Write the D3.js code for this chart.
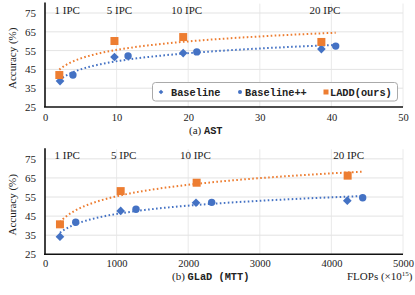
<!DOCTYPE html>
<html><head><meta charset="utf-8">
<script src="https://cdn.jsdelivr.net/npm/d3@7"></script>
<style>
body{margin:0;background:#fff}
svg{display:block}
</style></head><body>
<svg id="c" width="415" height="295"></svg>
<script>
// ---- data ----
const yTicks = [25, 35, 45, 55, 65, 75];
const ipcLabels = ["1 IPC", "5 IPC", "10 IPC", "20 IPC"];
const seriesNames = ["Baseline", "Baseline++", "LADD(ours)"];

// (a) AST
const astXTicks = [0, 10, 20, 30, 40, 50];
const astBaselineX = [2.1, 9.7, 19.3, 38.6];
const astBaselineY = [38.8, 51.6, 53.7, 55.8];
const astBaselinePPX = [3.9, 11.6, 21.2, 40.6];
const astBaselinePPY = [42.0, 52.1, 54.3, 57.4];
const astLaddX = [2.0, 9.7, 19.3, 38.6];
const astLaddY = [42.0, 60.1, 62.2, 59.6];
const astIpcX = [3.1, 10.4, 19.8, 39.1];

// (b) GLaD (MTT)
const gladXTicks = [0, 1000, 2000, 3000, 4000, 5000];
const gladBaselineX = [209, 1057, 2109, 4222];
const gladBaselineY = [34.2, 47.7, 52.0, 53.1];
const gladBaselinePPX = [429, 1271, 2328, 4437];
const gladBaselinePPY = [41.8, 48.6, 52.2, 54.6];
const gladLaddX = [209, 1057, 2118, 4227];
const gladLaddY = [40.7, 58.1, 62.5, 66.2];
const gladIpcX = [310, 1100, 2100, 4240];

const BLUE = "#4472C4", ORANGE = "#ED7D31";
const SERIF = "'Liberation Serif', 'Times New Roman', serif";
const MONO = "'Liberation Mono', 'DejaVu Sans Mono', monospace";
const svg = d3.select("#c");

function logFit(xs, ys) {
  const lx = xs.map(Math.log);
  const mx = d3.mean(lx), my = d3.mean(ys);
  let sxy = 0, sxx = 0;
  lx.forEach((v, i) => { sxy += (v - mx) * (ys[i] - my); sxx += (v - mx) * (v - mx); });
  const b = sxy / sxx, a = my - b * mx;
  return x => a + b * Math.log(x);
}

function panel(opt) {
  const x = d3.scaleLinear().domain([opt.xTicks[0], opt.xTicks[opt.xTicks.length-1]]).range([45, 403]);
  const y = d3.scaleLinear().domain([25, 80]).range([opt.bottom, opt.top]);
  const g = svg.append("g");

  // gridlines
  g.selectAll(".hg").data(yTicks.slice(1)).join("line")
    .attr("x1", 45).attr("x2", 403).attr("y1", d => y(d)).attr("y2", d => y(d))
    .attr("stroke", "#dcdcdc").attr("stroke-width", 0.8);
  g.selectAll(".vg").data(opt.xTicks.slice(1)).join("line")
    .attr("x1", d => x(d)).attr("x2", d => x(d)).attr("y1", opt.top).attr("y2", opt.bottom)
    .attr("stroke", "#e4e4e4").attr("stroke-width", 0.8);

  // axes
  const ya = d3.axisLeft(y).tickValues(yTicks).tickSize(0).tickPadding(9).tickFormat(d3.format("d"));
  const yg = g.append("g").attr("transform", "translate(45,0)").call(ya)
    .attr("font-family", SERIF).attr("font-size", 11);
  yg.select(".domain").remove();
  yg.selectAll("text").attr("fill", "#222");
  const xa = d3.axisBottom(x).tickValues(opt.xTicks).tickSize(0).tickPadding(opt.pad).tickFormat(d3.format("d"));
  const xg = g.append("g").attr("transform", `translate(0,${opt.bottom})`).call(xa)
    .attr("font-family", SERIF).attr("font-size", 10.5);
  xg.select(".domain").remove();
  xg.selectAll("text").attr("fill", "#222");
  g.append("line").attr("x1", 45).attr("x2", 45).attr("y1", opt.top - 1).attr("y2", opt.bottom)
    .attr("stroke", "#111").attr("stroke-width", 1.6);
  g.append("line").attr("x1", 44).attr("x2", 403).attr("y1", opt.bottom).attr("y2", opt.bottom)
    .attr("stroke", "#111").attr("stroke-width", 1.6);

  // y label
  g.append("text").attr("transform", `translate(16,${(opt.top + opt.bottom) / 2 + 3}) rotate(-90)`)
    .attr("text-anchor", "middle").attr("font-family", SERIF).attr("fill", "#222")
    .attr("font-size", 11).text("Accuracy (%)");

  // trendlines
  const allBx = opt.bx.concat(opt.bppx), allBy = opt.by.concat(opt.bppy);
  const fb = logFit(allBx, allBy), fo = logFit(opt.lx, opt.ly);
  const xMin = d3.min(allBx.concat(opt.lx)), xMax = d3.max(allBx.concat(opt.lx));
  const xs = d3.range(0, 101).map(i => xMin + (xMax - xMin) * i / 100);
  const line = f => d3.line().x(d => x(d)).y(d => y(f(d)))(xs);
  g.append("path").attr("d", line(fb)).attr("fill", "none").attr("stroke", BLUE)
    .attr("stroke-width", 2).attr("stroke-dasharray", "1.6,2.4");
  g.append("path").attr("d", line(fo)).attr("fill", "none").attr("stroke", ORANGE)
    .attr("stroke-width", 2).attr("stroke-dasharray", "1.6,2.4");

  // markers
  const diamond = d3.symbol().type(d3.symbolDiamond2).size(48);
  g.selectAll(".bd").data(opt.bx).join("path")
    .attr("d", diamond).attr("transform", (d, i) => `translate(${x(d)},${y(opt.by[i])})`).attr("fill", BLUE);
  g.selectAll(".bc").data(opt.bppx).join("circle")
    .attr("cx", d => x(d)).attr("cy", (d, i) => y(opt.bppy[i])).attr("r", 3.7).attr("fill", BLUE);
  g.selectAll(".ls").data(opt.lx).join("rect")
    .attr("x", d => x(d) - 4).attr("y", (d, i) => y(opt.ly[i]) - 4).attr("width", 8).attr("height", 8).attr("fill", ORANGE);

  // IPC labels
  g.selectAll(".ipc").data(opt.ipcX).join("text")
    .attr("x", d => x(d)).attr("y", opt.top + 10).attr("text-anchor", "middle")
    .attr("font-family", SERIF).attr("fill", "#222")
    .attr("font-size", 11).text((d, i) => ipcLabels[i]);
  return { x, y, g };
}

panel({ xTicks: astXTicks, top: 3.6, bottom: 107, pad: 7,
  bx: astBaselineX, by: astBaselineY, bppx: astBaselinePPX, bppy: astBaselinePPY,
  lx: astLaddX, ly: astLaddY, ipcX: astIpcX });
panel({ xTicks: gladXTicks, top: 149.3, bottom: 254.3, pad: 5.5,
  bx: gladBaselineX, by: gladBaselineY, bppx: gladBaselinePPX, bppy: gladBaselinePPY,
  lx: gladLaddX, ly: gladLaddY, ipcX: gladIpcX });

// legend
const lg = svg.append("g");
lg.append("rect").attr("x", 152.5).attr("y", 82.5).attr("width", 245).attr("height", 18.5)
  .attr("rx", 3).attr("fill", "#fff").attr("stroke", "#aaa").attr("stroke-width", 1);
const legX = [161, 240, 326];
lg.append("path").attr("d", d3.symbol().type(d3.symbolDiamond2).size(14)())
  .attr("transform", `translate(${legX[0]},92)`).attr("fill", BLUE);
lg.append("circle").attr("cx", legX[1]).attr("cy", 92).attr("r", 2).attr("fill", BLUE);
lg.append("rect").attr("x", legX[2] - 2.5).attr("y", 89.5).attr("width", 5).attr("height", 5).attr("fill", ORANGE);
lg.selectAll(".lt").data(seriesNames).join("text")
  .attr("font-family", MONO).attr("font-weight", "bold").attr("fill", "#222")
  .attr("x", (d, i) => legX[i] + [10, 5, 4][i]).attr("y", 95.5)
  .attr("font-size", 10.3).text(d => d);

// captions
const capA = svg.append("text").attr("x", 189).attr("y", 133.5).attr("font-size", 11)
  .attr("font-family", SERIF).attr("fill", "#222");
capA.append("tspan").text("(a) ");
capA.append("tspan").attr("font-family", MONO).attr("font-weight", "bold").attr("font-size", 10.3).text("AST");
const capB = svg.append("text").attr("x", 172).attr("y", 279.5).attr("font-size", 11)
  .attr("font-family", SERIF).attr("fill", "#222");
capB.append("tspan").text("(b) ");
capB.append("tspan").attr("font-family", MONO).attr("font-weight", "bold").attr("font-size", 10.3).text("GLaD (MTT)");
const fl = svg.append("text").attr("x", 347).attr("y", 279.5).attr("font-size", 11)
  .attr("font-family", SERIF).attr("fill", "#222");
fl.append("tspan").text("FLOPs (×10");
fl.append("tspan").attr("font-size", 7).attr("dy", -4).text("15");
fl.append("tspan").attr("dy", 4).text(")");
</script></body></html>
